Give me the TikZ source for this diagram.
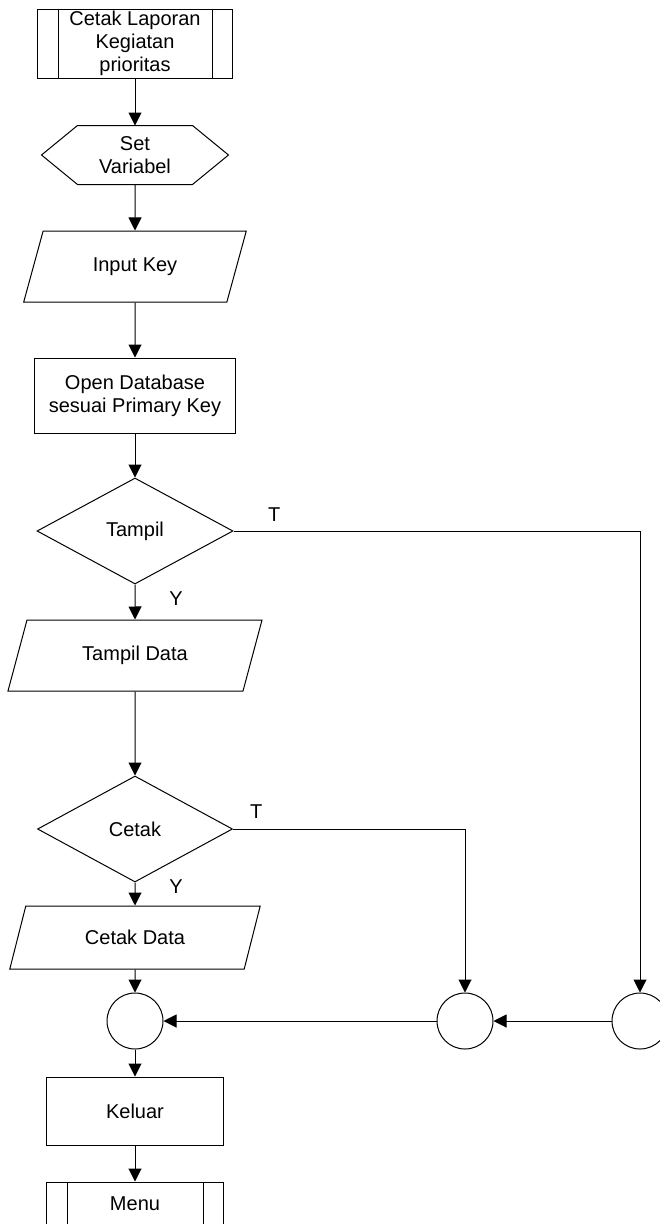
\documentclass[tikz,border=0pt]{standalone}
\usepackage{fontspec}
\setmainfont{Liberation Sans}
\usepackage{tikz}
\usetikzlibrary{shapes,arrows.meta,positioning,calc,shapes.geometric}

\begin{document}
\begin{tikzpicture}[
        x=0.75pt, y=-0.75pt,
        base/.style={draw=black, line width=0.75pt, inner sep=0pt, align=center, font=\fontsize{15}{17.25}\selectfont},
        proc/.style={base, rectangle},
        io/.style={base, trapezium, trapezium left angle=63.5, trapezium right angle=116.5, trapezium stretches=true},
        decision/.style={base, diamond, minimum height=79.5pt},
        joint/.style={base, circle, minimum size=42pt},
        lbl/.style={inner sep=0pt, font=\fontsize{15}{17.25}\selectfont},
        flow/.style={line width=0.75pt, -{Triangle[length=9.75pt, width=9.75pt]}}
    ]
        \useasboundingbox (0,0) rectangle (660,1224);
        \clip (0,0) rectangle (660,1224);

        % Start (predefined process)
        \node[proc, minimum width=146.25pt, minimum height=51.75pt] (fcStart) at (135, 43.5) {Cetak Laporan\\Kegiatan\\prioritas};
        \draw[line width=0.75pt] ([xshift=15.75pt]fcStart.north west) -- ([xshift=15.75pt]fcStart.south west);
        \draw[line width=0.75pt] ([xshift=-15.75pt]fcStart.north east) -- ([xshift=-15.75pt]fcStart.south east);

        % Preparation
        \node[base, draw=none, minimum width=85.5pt, minimum height=43.5pt] (fcSetVar) at (135, 155) {Set\\Variabel};
        \draw[line width=0.75pt] (fcSetVar.north west) -- (fcSetVar.north east) -- ([xshift=27pt]fcSetVar.east)
            -- (fcSetVar.south east) -- (fcSetVar.south west) -- ([xshift=-27pt]fcSetVar.west) -- cycle;

        % Input
        \node[io, minimum width=167.25pt, minimum height=53.25pt] (fcInput) at (135, 266.5) {Input Key};

        % Open database
        \node[proc, minimum width=150.75pt, minimum height=56.25pt] (fcOpenDb) at (135, 395.5) {Open Database\\sesuai Primary Key};

        % Decision: Tampil
        \node[decision, minimum width=147pt] (fcTampil) at (135, 531) {Tampil};

        % Tampil Data
        \node[io, minimum width=191.25pt, minimum height=53.25pt] (fcTampilData) at (135, 655.5) {Tampil Data};

        % Decision: Cetak
        \node[decision, minimum width=146.25pt] (fcCetak) at (135, 829) {Cetak};

        % Cetak Data
        \node[io, minimum width=188.25pt, minimum height=47.25pt] (fcCetakData) at (135, 937.5) {Cetak Data};

        % Connectors
        \node[joint] (fcJoinA) at (135, 1021) {};
        \node[joint] (fcJoinB) at (465, 1021) {};
        \node[joint] (fcJoinC) at (640, 1021) {};

        % Keluar
        \node[proc, minimum width=132.75pt, minimum height=51pt] (fcKeluar) at (135, 1111) {Keluar};

        % Menu (predefined process)
        \node[proc, minimum width=132.75pt, minimum height=33pt] (fcMenu) at (135, 1204) {Menu};
        \draw[line width=0.75pt] ([xshift=15.75pt]fcMenu.north west) -- ([xshift=15.75pt]fcMenu.south west);
        \draw[line width=0.75pt] ([xshift=-15.75pt]fcMenu.north east) -- ([xshift=-15.75pt]fcMenu.south east);

        % Flow
        \draw[flow] (fcStart) -- (fcSetVar);
        \draw[flow] (fcSetVar) -- (fcInput);
        \draw[flow] (fcInput) -- (fcOpenDb);
        \draw[flow] (fcOpenDb) -- (fcTampil);
        \draw[flow] (fcTampil) -- node[lbl, pos=0.4, xshift=30.75pt] {Y} (fcTampilData);
        \draw[flow] (fcTampil.east) -| node[lbl, pos=0.05, yshift=12pt] {T} (fcJoinC.north);
        \draw[flow] (fcTampilData) -- (fcCetak);
        \draw[flow] (fcCetak) -- node[lbl, pos=0.2, xshift=30.75pt] {Y} (fcCetakData);
        \draw[flow] (fcCetak.east) -| node[lbl, pos=0.05, yshift=12.75pt] {T} (fcJoinB.north);
        \draw[flow] (fcCetakData) -- (fcJoinA);
        \draw[flow] (fcJoinC) -- (fcJoinB);
        \draw[flow] (fcJoinB) -- (fcJoinA);
        \draw[flow] (fcJoinA) -- (fcKeluar);
        \draw[flow] (fcKeluar) -- (fcMenu);
    \end{tikzpicture}
\end{document}
